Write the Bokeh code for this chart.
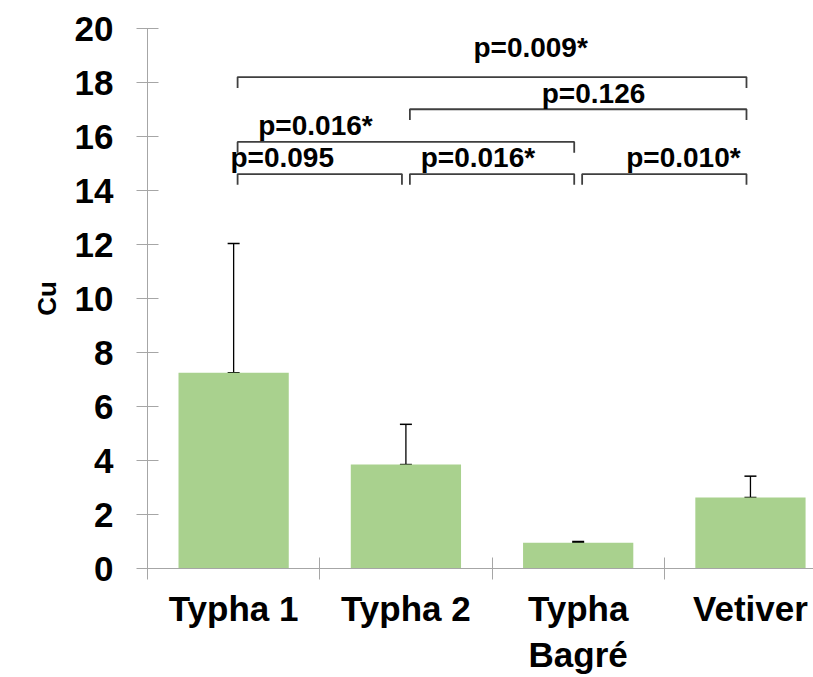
from bokeh.plotting import figure
from bokeh.models import FixedTicker, Range1d, Whisker, ColumnDataSource, TeeHead
from bokeh.embed import file_html
from bokeh.resources import INLINE
from bokeh.core.properties import value

# ---- data ----
categories = ["Typha 1", "Typha 2", "Typha\nBagré", "Vetiver"]
cu_mean = [7.25, 3.85, 0.95, 2.63]
cu_sd = [4.79, 1.49, 0.05, 0.79]
y_ticks = [0, 2, 4, 6, 8, 10, 12, 14, 16, 18, 20]

comp_left = [0, 1, 0, 0, 1, 2]
comp_right = [3, 3, 2, 1, 2, 3]
comp_label = ["p=0.009*", "p=0.126", "p=0.016*", "p=0.095", "p=0.016*", "p=0.010*"]

# ---- layout of the comparison brackets (positions, not data) ----
bracket_level = [18.20, 17.01, 15.80, 14.61, 14.61, 14.61]
bracket_leg = 0.40
bracket_inset = 0.023
label_x = [2.224, 2.589, 0.975, 0.782, 1.918, 3.111]
label_y = [19.28, 17.60, 16.40, 15.22, 15.22, 15.22]

FONT = "Liberation Sans"

centers = [i + 0.5 for i in range(len(categories))]

p = figure(width=813, height=677, output_backend="svg", toolbar_location=None,
           x_range=Range1d(0, 3.866), y_range=Range1d(0, 20),
           min_border_left=147, min_border_right=0, min_border_top=28,
           min_border_bottom=109)
p.grid.visible = False
p.outline_line_color = None
p.background_fill_color = "white"
p.border_fill_color = "white"

src = ColumnDataSource(dict(x=centers, top=cu_mean,
                            upper=[m + s for m, s in zip(cu_mean, cu_sd)]))
p.vbar(x="x", top="top", width=0.64, source=src, fill_color="#a9d18e",
       line_color=None)

wk = Whisker(base="x", lower="top", upper="upper", source=src,
             line_color="black", line_width=1.3,
             upper_head=TeeHead(size=12, line_color="black", line_width=1.5),
             lower_head=TeeHead(size=12, line_color="black", line_width=1.5))
p.add_layout(wk)

# brackets
xs, ys = [], []
for l, r, lv in zip(comp_left, comp_right, bracket_level):
    x0 = centers[l] + bracket_inset
    x1 = centers[r] - bracket_inset
    xs.append([x0, x0, x1, x1])
    ys.append([lv - bracket_leg, lv, lv, lv - bracket_leg])
p.multi_line(xs=xs, ys=ys, line_color="#3f3f3f", line_width=1.8)

p.text(x=label_x, y=label_y, text=comp_label, text_align="center",
       text_baseline="alphabetic", text_font=value(FONT),
       text_font_size="28px", text_font_style="bold", text_color="black")

# y axis
ya = p.yaxis[0]
ya.ticker = FixedTicker(ticks=y_ticks)
ya.axis_line_color = "#a6a6a6"
ya.major_tick_line_color = "#a6a6a6"
ya.major_tick_in = 11
ya.major_tick_out = 11
ya.minor_tick_line_color = None
ya.major_label_text_font = FONT
ya.major_label_text_font_size = "35px"
ya.major_label_text_font_style = "bold"
ya.major_label_text_color = "black"
ya.major_label_standoff = 23
ya.axis_label = "Cu"
ya.axis_label_text_font = FONT
ya.axis_label_text_font_size = "26px"
ya.axis_label_text_font_style = "bold"
ya.axis_label_text_color = "black"
ya.axis_label_standoff = 10

# x axis: labels at centres, boundary ticks as minor ticks
xa = p.xaxis[0]
xa.ticker = FixedTicker(ticks=centers, minor_ticks=[0, 1, 2, 3, 4])
xa.major_label_overrides = {c: lab for c, lab in zip(centers, categories)}
xa.axis_line_color = "#a6a6a6"
xa.major_tick_line_color = None
xa.major_tick_in = 0
xa.major_tick_out = 0
xa.minor_tick_line_color = "#a6a6a6"
xa.minor_tick_in = 11
xa.minor_tick_out = 11
xa.major_label_text_font = FONT
xa.major_label_text_font_size = "35px"
xa.major_label_text_font_style = "bold"
xa.major_label_text_color = "black"
xa.major_label_standoff = 9

open("out.html", "w").write(file_html(p, INLINE))
